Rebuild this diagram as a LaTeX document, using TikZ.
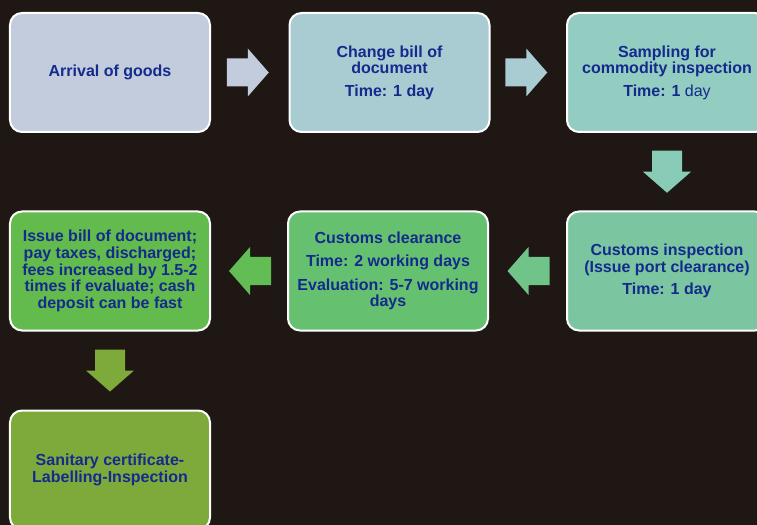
\documentclass[tikz,border=0pt]{standalone}
\usepackage{fontspec}
\setmainfont{Liberation Sans}
\usetikzlibrary{calc}
\definecolor{bg}{HTML}{1E1713}
\definecolor{txt}{HTML}{142A8C}
\definecolor{cA}{HTML}{C2CCDC}
\definecolor{cB}{HTML}{A9CCD2}
\definecolor{cC}{HTML}{93CCC0}
\definecolor{cF}{HTML}{7BC6A0}
\definecolor{cE}{HTML}{65C170}
\definecolor{cD}{HTML}{62BB4C}
\definecolor{cG}{HTML}{7EAA3C}
\definecolor{aC}{HTML}{88CBB6}
\definecolor{aF}{HTML}{70C48A}
\definecolor{aE}{HTML}{62BD55}
\newcommand\rblk[2]{\fill[#1, shift={#2}] (-21,-14) -- (0,-14) -- (0,-24) -- (21,0) -- (0,24) -- (0,14) -- (-21,14) -- cycle;}
\newcommand\lblk[2]{\fill[#1, shift={#2}] (21,-14) -- (0,-14) -- (0,-24) -- (-21,0) -- (0,24) -- (0,14) -- (21,14) -- cycle;}
\newcommand\dblk[2]{\fill[#1, shift={#2}] (-15,-21) -- (-15,0) -- (-24,0) -- (0,21) -- (24,0) -- (15,0) -- (15,-21) -- cycle;}
\begin{document}
\begin{tikzpicture}[x=1bp,y=-1bp,
  box/.style={draw=white, line width=2bp, rounded corners=12bp,
    minimum width=200bp, minimum height=119bp, align=center, text=txt,
    font=\bfseries\fontsize{16bp}{16.7bp}\selectfont, inner sep=0pt}]
\fill[bg] (0,0) rectangle (757,525);
\useasboundingbox (0,0) rectangle (757,525);
\node[box, fill=cA] (b1) at (110,72.5) {Arrival of goods};
\node[box, fill=cB] (b2) at (389.5,72.5) {Change bill of\\document\\[5.5bp]Time: 1 day};
\node[box, fill=cC] (b3) at (667,72.5) {Sampling for\\commodity inspection\\[5.5bp]Time: 1 {\mdseries day}};
\node[box, fill=cF] (b6) at (667,271) {Customs inspection\\(Issue port clearance)\\[6bp]Time: 1 day};
\node[box, fill=cE] (b5) at (388,271) {Customs clearance\\[6.6bp]Time: 2 working days\\[6.6bp]Evaluation: 5-7 working\\days};
\node[box, fill=cD] (b4) at (110,271) {Issue bill of document;\\pay taxes, discharged;\\fees increased by 1.5-2\\times if evaluate; cash\\deposit can be fast};
\node[box, fill=cG] (b7) at (110,470) {Sanitary certificate-\\Labelling-Inspection};
\rblk{cA}{($(b1.east)!0.5!(b2.west)+(-2,0)$)}
\rblk{cB}{($(b2.east)!0.5!(b3.west)+(-2,0)$)}
\dblk{aC}{($(b3.south)!0.5!(b6.north)$)}
\lblk{aF}{($(b5.east)!0.5!(b6.west)+(1,0)$)}
\lblk{aE}{($(b4.east)!0.5!(b5.west)+(1,0)$)}
\dblk{cG}{($(b4.south)!0.5!(b7.north)$)}
\end{tikzpicture}
\end{document}
